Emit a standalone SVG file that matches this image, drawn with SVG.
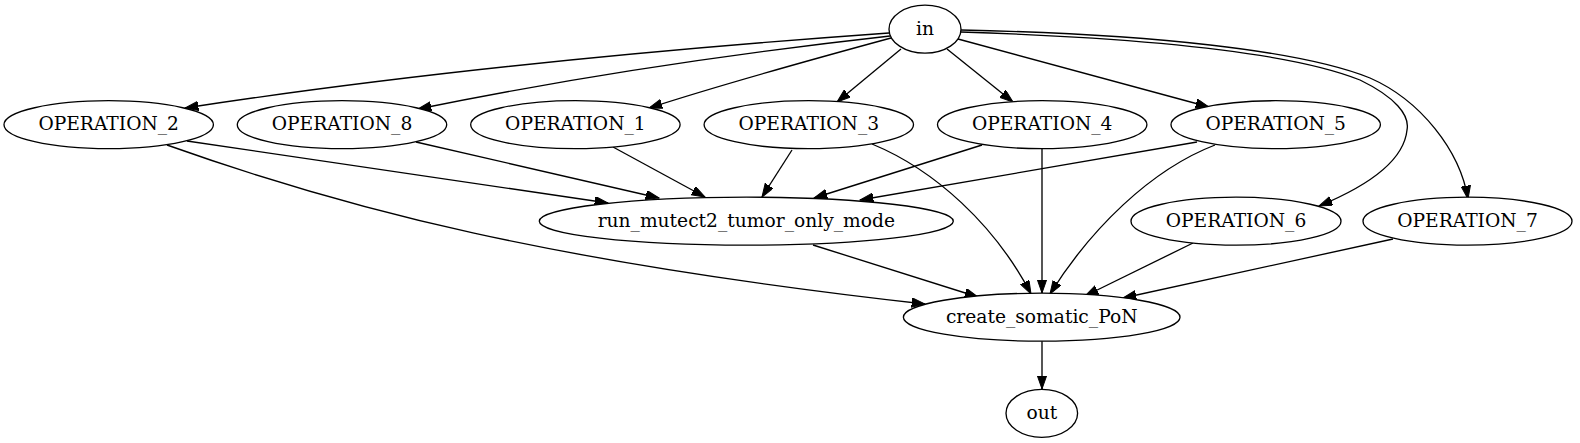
<svg xmlns="http://www.w3.org/2000/svg" width="1580" height="443" viewBox="0 0 1580 443">
<style>
.n ellipse{fill:#fff;stroke:#000;stroke-width:1.33}
.n text{font-family:"DejaVu Serif","Liberation Serif",serif;font-size:18.67px;text-anchor:middle;fill:#000}
#edges path{fill:none;stroke:#000;stroke-width:1.33;marker-end:url(#ah)}
</style>
<defs>
<marker id="ah" markerUnits="userSpaceOnUse" markerWidth="14" markerHeight="10" refX="13.3" refY="4.67" orient="auto">
<path d="M0,0 L13.3,4.67 L0,9.33 z" fill="#000" stroke="#000" stroke-width="1"/>
</marker>
</defs>
<rect width="1580" height="443" fill="#fff"/>
<g id="edges">
<path d="M889,33 C650,50 400,75 185,108"/>
<path d="M890,36 C720,55 560,80 418,109"/>
<path d="M891,38 C810,60 720,85 649,108"/>
<path d="M901,49 L837,102"/>
<path d="M947,49 L1013,102"/>
<path d="M958,39 L1209,107"/>
<path d="M961,32 C1150,38 1290,52 1360,80 C1395,97 1410,115 1407,130 C1404,160 1370,185 1319,206"/>
<path d="M961,30 C1150,34 1300,50 1370,78 C1420,100 1460,150 1468,199"/>
<path d="M187,141 L608,203"/>
<path d="M416,142 L659,198"/>
<path d="M613,147 L705,197"/>
<path d="M792,150 L762,197"/>
<path d="M982,145 L814,198"/>
<path d="M1197,142 L860,200"/>
<path d="M167,145 C350,210 550,262 925,304"/>
<path d="M872,144 C935,170 995,225 1031,294"/>
<path d="M1042,148 L1042,293"/>
<path d="M1215,145 C1150,170 1090,230 1050,294"/>
<path d="M813,245 L978,297"/>
<path d="M1193,243 L1085,296"/>
<path d="M1393,239 L1123,298"/>
<path d="M1042,341 L1042,389"/>
</g>
<g id="in" class="n"><ellipse cx="925" cy="29.2" rx="36" ry="24"/><text x="925" y="34.5">in</text></g>
<g id="OPERATION_2" class="n"><ellipse cx="108.7" cy="124.7" rx="104.7" ry="24"/><text x="108.7" y="130">OPERATION_2</text></g>
<g id="OPERATION_8" class="n"><ellipse cx="342" cy="124.7" rx="104.7" ry="24"/><text x="342" y="130">OPERATION_8</text></g>
<g id="OPERATION_1" class="n"><ellipse cx="575.4" cy="124.7" rx="104.7" ry="24"/><text x="575.4" y="130">OPERATION_1</text></g>
<g id="OPERATION_3" class="n"><ellipse cx="808.8" cy="124.7" rx="104.7" ry="24"/><text x="808.8" y="130">OPERATION_3</text></g>
<g id="OPERATION_4" class="n"><ellipse cx="1042.2" cy="124.7" rx="104.7" ry="24"/><text x="1042.2" y="130">OPERATION_4</text></g>
<g id="OPERATION_5" class="n"><ellipse cx="1275.7" cy="124.7" rx="104.7" ry="24"/><text x="1275.7" y="130">OPERATION_5</text></g>
<g id="run_mutect2_tumor_only_mode" class="n"><ellipse cx="746.3" cy="221.2" rx="207" ry="24"/><text x="746.3" y="226.5">run_mutect2_tumor_only_mode</text></g>
<g id="OPERATION_6" class="n"><ellipse cx="1236" cy="221.2" rx="105" ry="24"/><text x="1236" y="226.5">OPERATION_6</text></g>
<g id="OPERATION_7" class="n"><ellipse cx="1467.5" cy="221.2" rx="104.5" ry="24"/><text x="1467.5" y="226.5">OPERATION_7</text></g>
<g id="create_somatic_PoN" class="n"><ellipse cx="1041.7" cy="317.2" rx="138.3" ry="24"/><text x="1041.7" y="322.5">create_somatic_PoN</text></g>
<g id="out" class="n"><ellipse cx="1041.8" cy="413.3" rx="35.8" ry="24"/><text x="1041.8" y="418.6">out</text></g>
</svg>
